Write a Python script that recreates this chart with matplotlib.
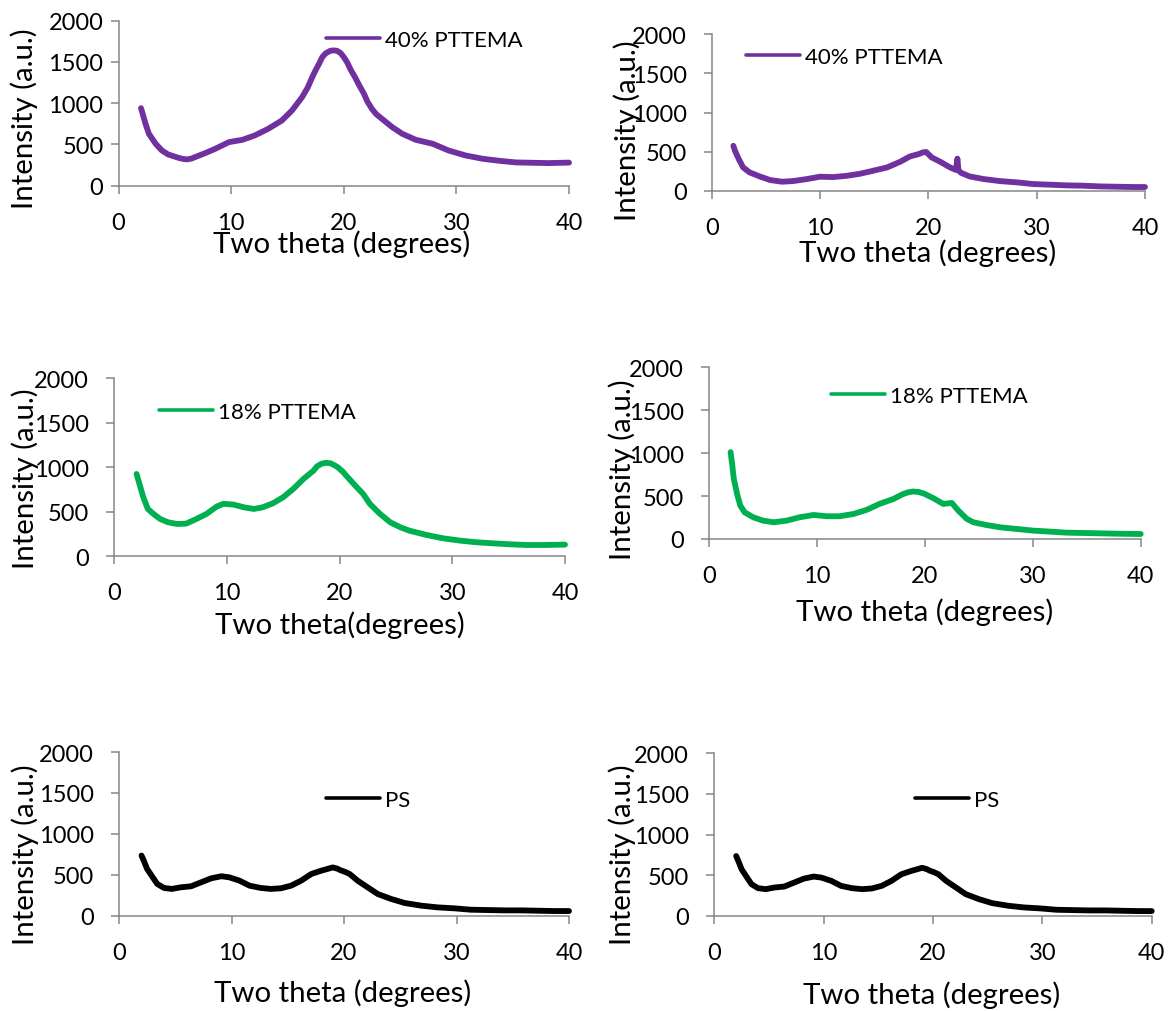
import matplotlib
matplotlib.use("Agg")
import matplotlib.pyplot as plt

# ---------------------------------------------------------------------------
# XRD patterns (intensity vs two theta)
# ---------------------------------------------------------------------------
two_theta_40a = [2.0, 2.4, 2.7, 3.3, 3.85, 4.4, 5.3, 5.7, 6.1, 6.5, 6.8, 7.7, 8.6,
                 9.8, 11.0, 12.1, 13.3, 14.5, 15.4, 16.3, 16.8, 17.2, 17.5, 17.8,
                 18.1, 18.4, 18.8, 19.1, 19.4, 19.7, 20.0, 20.3, 20.6, 21.0, 21.4,
                 21.8, 22.1, 22.5, 22.9, 23.4, 24.3, 25.2, 26.4, 27.9, 29.3, 30.8,
                 32.3, 33.8, 35.3, 36.7, 38.2, 40.0]
intensity_40a = [940, 750, 629, 508, 427, 379, 339, 325, 319, 330, 347, 395, 448,
                 528, 556, 609, 690, 790, 911, 1073, 1190, 1315, 1400, 1476,
                 1560, 1605, 1635, 1640, 1635, 1610, 1560, 1496, 1410, 1315, 1210,
                 1113, 1020, 931, 865, 810, 710, 629, 556, 508, 427, 367,
                 327, 302, 282, 278, 274, 280]

two_theta_40b = [2.0, 2.15, 2.5, 2.9, 3.5, 4.5, 5.4, 6.5, 7.5, 8.8, 10.0, 11.2,
                 12.5, 13.7, 14.9, 16.2, 17.4, 18.3, 19.1, 19.5, 19.8, 20.3, 21.1,
                 22.0, 22.55, 22.68, 22.78, 23.0, 23.8, 25.1, 26.6, 28.2, 29.7,
                 31.2, 32.8, 34.3, 35.8, 37.4, 38.9, 40.0]
intensity_40b = [574, 510, 404, 298, 234, 179, 136, 115, 123, 149, 179, 174,
                 191, 217, 255, 298, 370, 438, 468, 490, 495, 426, 370,
                 298, 265, 410, 262, 230, 183, 149, 123, 106, 85,
                 77, 68, 64, 55, 51, 47, 47]

two_theta_18a = [2.0, 2.3, 2.6, 3.0, 3.5, 4.1, 4.8, 5.6, 6.4, 7.3, 8.2, 9.1, 9.7,
                 10.6, 11.5, 12.4, 13.2, 14.1, 15.0, 15.9, 16.8, 17.7, 18.0, 18.4,
                 18.8, 19.2, 19.6, 19.9, 20.3, 20.6, 21.4, 22.1, 22.7, 23.6, 24.5,
                 25.4, 26.2, 27.7, 29.2, 30.7, 32.2, 33.6, 35.1, 36.6, 38.1, 40.0]
intensity_18a = [925, 794, 663, 532, 476, 419, 382, 363, 367, 419, 476, 558, 590,
                 581, 551, 532, 551, 596, 663, 757, 869, 963, 1010, 1040,
                 1050, 1045, 1020, 995, 950, 906, 794, 700, 588, 476, 382,
                 326, 288, 240, 202, 176, 157, 146, 135, 127, 127, 131]

two_theta_18b = [2.0, 2.16, 2.3, 2.6, 2.9, 3.3, 4.1, 5.0, 6.0, 7.2, 8.4, 9.7, 10.9,
                 12.1, 13.4, 14.6, 15.8, 17.1, 18.0, 18.5, 18.9, 19.4, 19.9, 20.8,
                 21.7, 22.5, 23.1, 23.9, 24.5, 25.7, 27.0, 28.5, 30.1, 31.6, 33.1,
                 34.7, 36.2, 37.8, 40.0]
intensity_18b = [1012, 856, 700, 525, 389, 311, 253, 214, 195, 214, 253, 280, 265,
                 265, 292, 339, 409, 467, 525, 545, 553, 548, 530, 475,
                 409, 420, 331, 233, 195, 163, 136, 117, 97, 86, 74,
                 70, 66, 62, 58]

two_theta_ps = [2.0, 2.2, 2.5, 3.0, 3.4, 4.0, 4.7, 5.5, 6.4, 7.3, 8.2, 9.1, 9.8,
                10.7, 11.6, 12.6, 13.5, 14.4, 15.3, 16.2, 17.1, 18.0, 18.5, 19.0,
                19.4, 19.7, 20.1, 20.5, 21.2, 22.1, 23.0, 24.2, 25.4, 26.9, 28.3,
                29.8, 31.3, 32.8, 34.3, 35.8, 37.2, 38.7, 40.0]
intensity_ps = [735, 673, 571, 469, 388, 339, 327, 347, 359, 408, 457, 482, 469,
                429, 367, 339, 327, 335, 367, 429, 510, 551, 570, 590,
                575, 555, 535, 510, 429, 347, 265, 204, 155, 122, 102,
                90, 73, 69, 65, 65, 61, 57, 57]

series_names = ["40% PTTEMA", "40% PTTEMA", "18% PTTEMA", "18% PTTEMA", "PS", "PS"]
series_x = [two_theta_40a, two_theta_40b, two_theta_18a, two_theta_18b,
            two_theta_ps, two_theta_ps]
series_y = [intensity_40a, intensity_40b, intensity_18a, intensity_18b,
            intensity_ps, intensity_ps]
series_colors = ["#7030A0", "#7030A0", "#00B050", "#00B050", "#000000", "#000000"]
x_titles = ["Two theta (degrees)", "Two theta (degrees)", "Two theta(degrees)",
            "Two theta (degrees)", "Two theta (degrees)", "Two theta (degrees)"]
y_title = "Intensity (a.u.)"
x_ticks = [0, 10, 20, 30, 40]
y_ticks = [0, 500, 1000, 1500, 2000]

# ---------------------------------------------------------------------------
# Layout (pixels on a 1169 x 1012 canvas)
# ---------------------------------------------------------------------------
W, H = 1169, 1012
# left, right, top (y=2000), bottom (y=0)
boxes = [(118.5, 569, 21.7, 186.7),
         (711.7, 1145, 35.3, 191.7),
         (114, 565, 379.3, 557.3),
         (709, 1140.7, 368.3, 540),
         (119, 569, 753, 916.7),
         (714.3, 1151.7, 754.3, 916.7)]
ytick_pad = [5.0, 12.3, 12.3, 12.3, 12.3, 12.3]
ylabel_pos = [(24, 119), (627, 131), (25, 479), (622, 470), (25, 855), (622, 855)]
xlabel_pos = [(342, 244.5), (928, 253), (340, 625), (925, 612), (343, 993), (932, 995)]
legend_pos = [(325.7, 41), (746, 58), (159, 413), (831, 397), (326, 801), (915, 801)]

plt.rcParams["font.family"] = ["Lato", "DejaVu Sans"]
fig = plt.figure(figsize=(W / 100, H / 100), dpi=100)
fig.patch.set_facecolor("white")

axis_gray = "#868686"

for i in range(6):
    L, R, T, B = boxes[i]
    ax = fig.add_axes([L / W, 1 - B / H, (R - L) / W, (B - T) / H])
    ax.plot(series_x[i], series_y[i], color=series_colors[i], lw=4.2,
            solid_joinstyle="round", solid_capstyle="round",
            label=series_names[i], clip_on=False)
    ax.set_xlim(0, 40)
    ax.set_ylim(0, 2000)
    ax.set_xticks(x_ticks)
    ax.set_yticks(y_ticks)
    for side in ("top", "right"):
        ax.spines[side].set_visible(False)
    for side in ("left", "bottom"):
        ax.spines[side].set_color(axis_gray)
        ax.spines[side].set_linewidth(1.1)
    ax.tick_params(axis="both", direction="out", length=5.8, width=1.1,
                   color=axis_gray, labelsize=17, labelcolor="black")
    ax.tick_params(axis="x", pad=13.0)
    ax.tick_params(axis="y", pad=ytick_pad[i])
    ax.set_facecolor("none")

    ax.set_ylabel(y_title, fontsize=21.2, ha="center", va="center")
    ax.set_xlabel(x_titles[i], fontsize=21.2, ha="center", va="center")
    yx, yy = ylabel_pos[i]
    ax.yaxis.set_label_coords((yx - L) / (R - L), (B - yy) / (B - T))
    xx, xy = xlabel_pos[i]
    ax.xaxis.set_label_coords((xx - L) / (R - L), (B - xy) / (B - T))

    lx, ly = legend_pos[i]
    ax.legend(loc="center left",
              bbox_to_anchor=((lx - L) / (R - L), (B - ly) / (B - T)),
              frameon=False, fontsize=16, handlelength=2.45,
              handletextpad=0.2, borderpad=0, borderaxespad=0)
    leg_line = ax.get_legend().get_lines()[0]
    leg_line.set_linewidth(2.6)

fig.savefig("out.png", dpi=100, facecolor="white")
